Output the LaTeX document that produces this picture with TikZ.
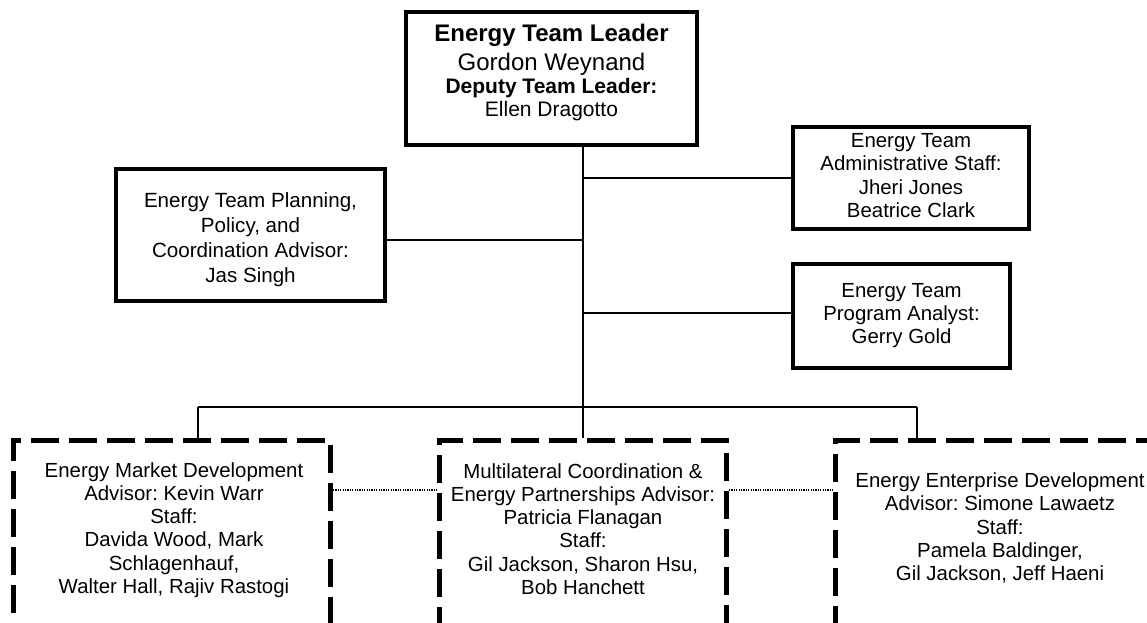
\documentclass[tikz,border=0pt]{standalone}
\usepackage{fontspec}
\setmainfont{Liberation Sans}
\frenchspacing
\begin{document}
\begin{tikzpicture}[x=1pt,y=-1pt,
  box/.style={draw,line width=4pt,inner sep=0pt},
  dbox/.style={draw,line width=5pt,dash pattern=on 28pt off 10pt,inner sep=0pt},
  txt/.style={align=center,inner sep=0pt,font=\fontsize{20.4}{23.3}\selectfont},
  conn/.style={line width=1.3pt},
  dotc/.style={line width=1.4pt,dash pattern=on 1.2pt off 1.2pt}]
\useasboundingbox (0,0) rectangle (1147,622);
% boxes
\node[box,minimum width=291pt,minimum height=133pt] (lead) at (551.5,78.5) {};
\node[box,minimum width=269pt,minimum height=132pt] (plan) at (250.5,235) {};
\node[box,minimum width=236pt,minimum height=102pt] (admin) at (911,178) {};
\node[box,minimum width=217pt,minimum height=104pt] (prog) at (901.5,316) {};
\node[dbox,minimum width=317pt,minimum height=209.5pt] (mkt) at (172,545.25) {};
\node[dbox,minimum width=287pt,minimum height=209.5pt] (mid) at (583,545.25) {};
\node[dbox,minimum width=344.5pt,minimum height=209.5pt] (ent) at (1007.75,545.25) {};
% texts
\node[txt,font=\fontsize{21}{23.3}\selectfont] (leadt) at (551.5,72.5)
  {{\fontsize{24}{29}\selectfont\bfseries Energy Team Leader}\\[5.7pt]
   {\fontsize{24}{29}\selectfont Gordon Weynand}\\
   \textbf{Deputy Team Leader:}\\
   Ellen Dragotto};
\node[txt,font=\fontsize{20.6}{25}\selectfont] (plant) at (250.5,239.5)
  {Energy Team Planning,\\Policy, and\\Coordination Advisor:\\Jas Singh};
\node[txt] (admint) at (911,175.5)
  {Energy Team\\Administrative Staff:\\Jheri Jones\\Beatrice Clark};
\node[txt] (progt) at (901.5,315.5)
  {Energy Team\\Program Analyst:\\Gerry Gold};
\node[txt] (mktt) at (174,530)
  {Energy Market Development\\Advisor: Kevin Warr\\Staff:\\Davida Wood, Mark\\Schlagenhauf,\\Walter Hall, Rajiv Rastogi};
\node[txt] (midt) at (583,529)
  {Multilateral Coordination \&\\Energy Partnerships Advisor:\\Patricia Flanagan\\Staff:\\Gil Jackson, Sharon Hsu,\\Bob Hanchett};
\node[txt] (entt) at (1000,528)
  {Energy Enterprise Development\\Advisor: Simone Lawaetz\\Staff:\\Pamela Baldinger,\\Gil Jackson, Jeff Haeni};
% junction coordinates
\coordinate (j) at (583,407);
\coordinate (yl) at (583,240);
\coordinate (yp) at (583,313);
\coordinate (bl) at (198,407);
\coordinate (br) at (917,407);
\coordinate (yd) at (0,490);
% connectors
\draw[conn] (lead.south -| j) -- (j);
\draw[conn] (plan.east |- yl) -- (yl);
\draw[conn] (admin.west -| j) -- (admin.west);
\draw[conn] (yp) -- (yp -| prog.west);
\draw[conn] (bl) -- (br);
\draw[conn] (bl) -- (bl |- mkt.north);
\draw[conn] (j) -- (mid.north);
\draw[conn] (br) -- (br |- ent.north);
\draw[dotc] (mkt.east |- yd) -- (mid.west |- yd);
\draw[dotc] (mid.east |- yd) -- (ent.west |- yd);
\end{tikzpicture}
\end{document}
